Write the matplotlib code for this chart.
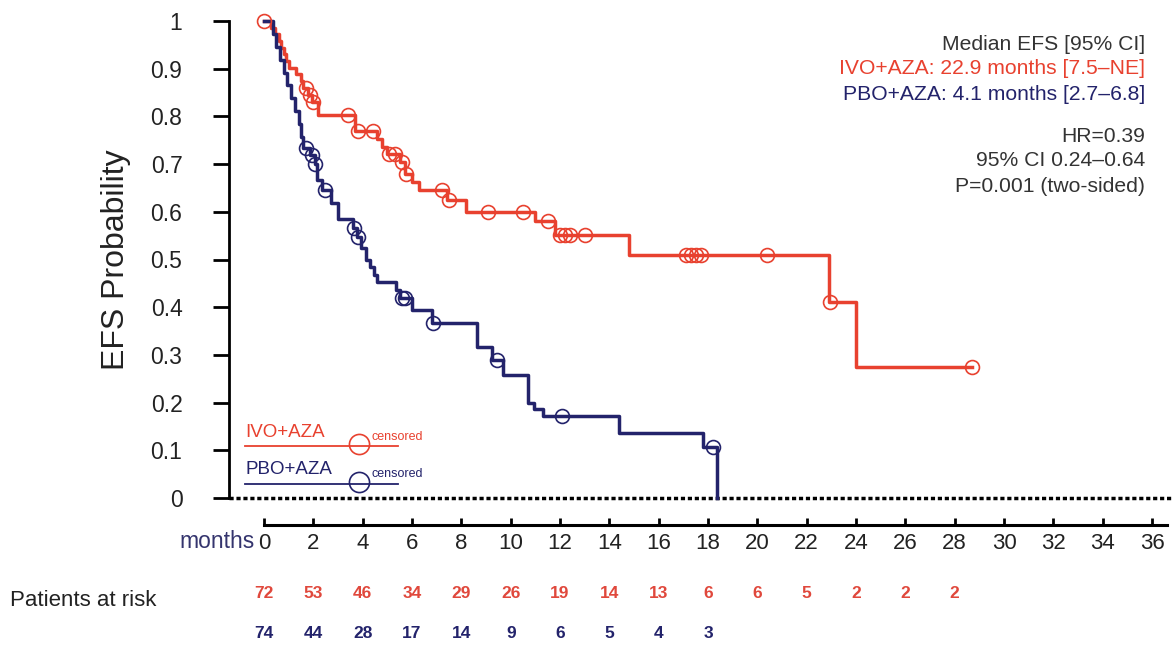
import numpy as np
import matplotlib
matplotlib.use("Agg")
import matplotlib.pyplot as plt
import matplotlib.transforms as mtransforms

plt.rcParams['font.family'] = ['Liberation Sans', 'DejaVu Sans']

# --- data ---
# IVO+AZA: event times (months) and survival after each step
ivo_t = [0, 0.3, 0.45, 0.6, 0.7, 0.8, 0.9, 1.0, 1.3, 1.5, 1.6, 1.8, 1.95, 2.2,
         3.7, 4.6, 4.8, 5.0, 5.5, 5.7, 6.0, 6.3, 7.4, 8.2, 11.0, 11.8, 14.8,
         22.9, 24.0]
ivo_s = [1.0, 0.986, 0.972, 0.958, 0.944, 0.93, 0.916, 0.902, 0.888, 0.874,
         0.86, 0.845, 0.83, 0.803, 0.77, 0.752, 0.736, 0.722, 0.705, 0.68,
         0.663, 0.645, 0.625, 0.60, 0.58, 0.551, 0.51, 0.41, 0.274]
ivo_end = 28.7
ivo_cens = [0.0, 1.7, 1.85, 2.0, 3.4, 3.8, 4.4, 5.05, 5.3, 5.6, 5.75, 7.2, 7.5,
            9.1, 10.5, 11.5, 12.0, 12.2, 12.4, 13.0, 17.1, 17.3, 17.5, 17.7,
            20.4, 22.95, 28.7]

# PBO+AZA
pbo_t = [0, 0.35, 0.5, 0.65, 0.8, 0.95, 1.1, 1.25, 1.4, 1.5, 1.6, 1.85, 2.05,
         2.15, 2.35, 2.7, 3.0, 3.6, 3.75, 3.95, 4.15, 4.3, 4.45, 4.6, 5.35,
         5.5, 6.0, 6.8, 8.65, 9.25, 9.7, 10.7, 10.95, 11.3, 14.4, 17.8, 18.36]
pbo_s = [1.0, 0.973, 0.946, 0.919, 0.892, 0.865, 0.838, 0.811, 0.784, 0.757,
         0.734, 0.72, 0.70, 0.667, 0.645, 0.618, 0.585, 0.566, 0.547, 0.524,
         0.50, 0.484, 0.468, 0.453, 0.437, 0.419, 0.394, 0.367, 0.317, 0.29,
         0.258, 0.20, 0.186, 0.172, 0.136, 0.107, 0.0]
pbo_end = 18.36
pbo_cens = [1.7, 1.95, 2.08, 2.47, 3.65, 3.8, 5.6, 5.7, 6.85, 9.45, 12.1, 18.2]

risk_months = list(range(0, 30, 2))
ivo_risk = [72, 53, 46, 34, 29, 26, 19, 14, 13, 6, 6, 5, 2, 2, 2]
pbo_risk = [74, 44, 28, 17, 14, 9, 6, 5, 4, 3]

RED = '#e8412f'
NAVY = '#23236b'


def km_at(times, surv, t):
    i = np.searchsorted(times, t, side='right') - 1
    return np.asarray(surv)[i]


fig = plt.figure(figsize=(11.73, 6.46), dpi=100)
ax = fig.add_axes([229 / 1173, 1 - 498 / 646, 944 / 1173, 477 / 646])
ax.set_xlim(-1.42, 36.85)
ax.set_ylim(0, 1)

for t, s, end, cens, col in [(ivo_t, ivo_s, ivo_end, ivo_cens, RED),
                             (pbo_t, pbo_s, pbo_end, pbo_cens, NAVY)]:
    x = list(t) + [end]
    y = list(s) + [s[-1]]
    ax.step(x, y, where='post', color=col, lw=2.5, clip_on=False, zorder=3)
    ax.plot(cens, km_at(t, s, cens), 'o', ms=10, mfc='none', mec=col,
            mew=1.2, clip_on=False, zorder=4)

# dotted zero line
ax.axhline(0, color='black', lw=2.5, ls=(0, (1.2, 0.8)), zorder=2, clip_on=False)

# axes styling
ax.spines['top'].set_visible(False)
ax.spines['right'].set_visible(False)
ax.spines['left'].set_bounds(0, 1)
ax.spines['left'].set_linewidth(2)
ax.spines['bottom'].set_position(('outward', 19.5))
ax.spines['bottom'].set_bounds(0, 36.6)
ax.spines['bottom'].set_linewidth(2.2)

ax.set_xticks(range(0, 37, 2))
ax.tick_params(axis='x', direction='in', length=5, width=2, pad=6,
               labelsize=16, labelcolor='#222222')
ax.set_yticks(np.arange(0, 1.01, 0.1))
ax.set_yticklabels(['0', '0.1', '0.2', '0.3', '0.4', '0.5', '0.6', '0.7',
                    '0.8', '0.9', '1'])
ax.tick_params(axis='y', direction='out', length=11.5, width=2, pad=22,
               labelsize=16.5, labelcolor='#222222')
ax.set_ylabel('EFS Probability', fontsize=23, color='#222222', labelpad=14)

# in-plot legend
legend_items = [('IVO+AZA', RED, 0.138, 0.109, 0.128),
                ('PBO+AZA', NAVY, 0.059, 0.029, 0.050)]
for name, col, ty, ly, cy in legend_items:
    ax.text(0.017, ty, name, transform=ax.transAxes, color=col, fontsize=13.5,
            va='center', ha='left')
    ax.plot([0.017, 0.179], [ly, ly], transform=ax.transAxes, color=col,
            lw=1.3, clip_on=False)
    ax.plot([0.138], [ly + 0.004], 'o', transform=ax.transAxes, ms=14.5,
            mfc='none', mec=col, mew=1.2, clip_on=False)
    ax.text(0.151, cy, 'censored', transform=ax.transAxes, color=col,
            fontsize=9, va='center', ha='left')

# stats block
stats = [('Median EFS [95% CI]', '#333333', 44),
         ('IVO+AZA: 22.9 months [7.5\u2013NE]', RED, 69),
         ('PBO+AZA: 4.1 months [2.7\u20136.8]', NAVY, 94),
         ('HR=0.39', '#333333', 137),
         ('95% CI 0.24\u20130.64', '#333333', 161),
         ('P=0.001 (two-sided)', '#333333', 186)]
for txt, col, ypx in stats:
    fig.text(1145 / 1173, 1 - ypx / 646, txt, color=col, fontsize=15.2,
             ha='right', va='center')

# months label and numbers at risk
fig.text(255 / 1173, 1 - 541 / 646, 'months', color='#35356e', fontsize=16.5,
         ha='right', va='center')
fig.text(10 / 1173, 1 - 600 / 646, 'Patients at risk', color='#222222',
         fontsize=16, ha='left', va='center')
trans = mtransforms.blended_transform_factory(ax.transData, fig.transFigure)
for m, n in zip(risk_months, ivo_risk):
    ax.text(m, 1 - 593 / 646, str(n), transform=trans, color='#e0483c',
            fontsize=12.5, fontweight='bold', ha='center', va='center')
for m, n in zip(risk_months, pbo_risk):
    ax.text(m, 1 - 634 / 646, str(n), transform=trans, color=NAVY,
            fontsize=12.5, fontweight='bold', ha='center', va='center')

fig.savefig('out.png', dpi=100)
